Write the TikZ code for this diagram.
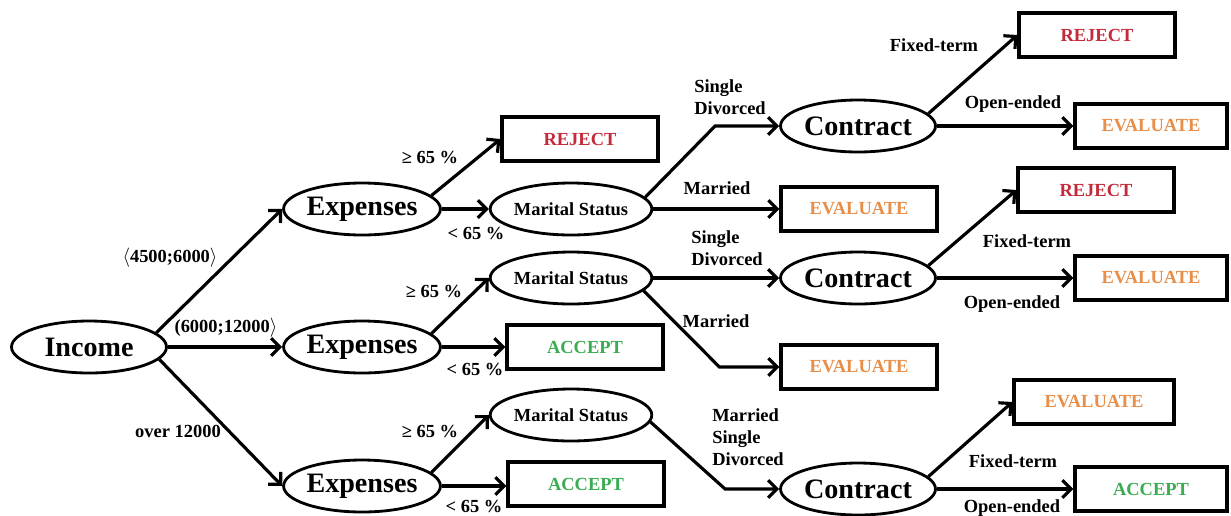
\documentclass[tikz,border=0pt]{standalone}
\usepackage{fontspec}
\setmainfont{Liberation Serif}
\usetikzlibrary{arrows.meta, calc, shapes.geometric}
\definecolor{rejectred}{RGB}{196,42,58}
\definecolor{evalorange}{RGB}{232,142,72}
\definecolor{acceptgreen}{RGB}{58,172,82}

\begin{document}
\begin{tikzpicture}[x=0.02cm, y=-0.02cm,
    decision/.style={ellipse, draw, line width=1.6pt, inner sep=0pt, minimum width=3.1cm, minimum height=1.04cm, font=\fontsize{16}{18}\selectfont\bfseries},
    status/.style={decision, minimum width=3.18cm, font=\fontsize{10.5}{12}\selectfont\bfseries},
    outcome/.style={draw, line width=1.8pt, inner sep=0pt, minimum width=3.12cm, minimum height=0.88cm, font=\fontsize{10.5}{12}\selectfont\bfseries},
    lbl/.style={inner sep=0pt, align=left, font=\fontsize{10.5}{12.5}\selectfont\bfseries},
    branch/.style={line width=1.8pt, -{Straight Barb[length=5pt,width=10pt]}}]
    \fill[white] (0,0) rectangle (1231,515);
    \useasboundingbox (0,0) rectangle (1231,515);

    \node[decision] (income) at (89,347) {Income};
    \node[decision] (exp1) at (362,209) {Expenses};
    \node[decision] (exp2) at (362,347) {Expenses};
    \node[decision] (exp3) at (362,486) {Expenses};

    \node[outcome, text=rejectred] (rej1) at (580,139) {REJECT};
    \node[status] (ms1) at (571,209) {Marital Status};
    \node[status] (ms2) at (571,278) {Marital Status};
    \node[outcome, text=acceptgreen] (acc2) at (585,347) {ACCEPT};
    \node[status] (ms3) at (571,415) {Marital Status};
    \node[outcome, text=acceptgreen] (acc3) at (586,484) {ACCEPT};

    \node[decision] (con1) at (858,126) {Contract};
    \node[outcome, text=evalorange] (eval1) at (859,209) {EVALUATE};
    \node[decision] (con2) at (858,278) {Contract};
    \node[outcome, text=evalorange] (eval2) at (859,367) {EVALUATE};
    \node[decision] (con3) at (858,489) {Contract};

    \node[outcome, text=rejectred] (rej2) at (1097,35) {REJECT};
    \node[outcome, text=evalorange, minimum width=3.04cm] (eval3) at (1151,126) {EVALUATE};
    \node[outcome, text=rejectred] (rej3) at (1096,190) {REJECT};
    \node[outcome, text=evalorange, minimum width=3.04cm] (eval4) at (1151,278) {EVALUATE};
    \node[outcome, text=evalorange, minimum width=3.2cm] (eval5) at (1094,402) {EVALUATE};
    \node[outcome, text=acceptgreen, minimum width=3.04cm] (acc4) at (1151,489) {ACCEPT};

    \draw[branch] (income.12) -- (exp1.west);
    \draw[branch] (income.east) -- (exp2.west);
    \draw[branch] (income.-10) -- (exp3.west);

    \draw[branch] (exp1.11) -- (rej1.west);
    \draw[branch] (exp1) -- (ms1);
    \draw[branch] (exp2.11) -- (ms2.west);
    \draw[branch] (exp2) -- (acc2);
    \draw[branch] (exp3.11) -- (ms3.west);
    \draw[branch] (exp3.east) -- (exp3.east -| acc3.west);

    \draw[branch] (ms1.9) -- ($(con1.west)+(-64,0)$) -- (con1.west);
    \draw[branch] (ms1) -- (eval1);
    \draw[branch] (ms2) -- (con2);
    \draw[branch] (ms2.-10) -- ($(eval2.west)+(-60,0)$) -- (eval2.west);
    \draw[branch] (ms3.-5) -- ($(con3.west)+(-54,0)$) -- (con3.west);

    \draw[branch] (con1.10) -- (rej2.west);
    \draw[branch] (con1) -- (eval3);
    \draw[branch] (con2.10) -- (rej3.west);
    \draw[branch] (con2) -- (eval4);
    \draw[branch] (con3.10) -- (eval5.west);
    \draw[branch] (con3) -- (acc4);

    \node[lbl] (l-low) at (170,258) {$\langle$4500;6000$\rangle$};
    \node[lbl] (l-mid) at (226,328) {(6000;12000$\rangle$};
    \node[lbl] (l-high) at (178,431) {over 12000};
    \node[lbl] (l-ge1) at (430,157) {≥ 65 \%};
    \node[lbl] (l-lt1) at (476,233) {< 65 \%};
    \node[lbl] (l-ge2) at (434,291) {≥ 65 \%};
    \node[lbl] (l-lt2) at (475,369) {< 65 \%};
    \node[lbl] (l-ge3) at (430,431) {≥ 65 \%};
    \node[lbl] (l-lt3) at (474,506) {< 65 \%};
    \node[lbl] (l-sd1) at (730,97) {Single\\Divorced};
    \node[lbl] (l-m1) at (717,188) {Married};
    \node[lbl] (l-sd2) at (727,248) {Single\\Divorced};
    \node[lbl] (l-m2) at (716,321) {Married};
    \node[lbl] (l-all) at (748,437) {Married\\Single\\Divorced};
    \node[lbl] (l-fix1) at (934,45) {Fixed-term};
    \node[lbl] (l-open1) at (1013,104) {Open-ended};
    \node[lbl] (l-fix2) at (1027,241) {Fixed-term};
    \node[lbl] (l-open2) at (1012,304) {Open-ended};
    \node[lbl] (l-fix3) at (1013,461) {Fixed-term};
    \node[lbl] (l-open3) at (1012,508) {Open-ended};
\end{tikzpicture}
\end{document}
